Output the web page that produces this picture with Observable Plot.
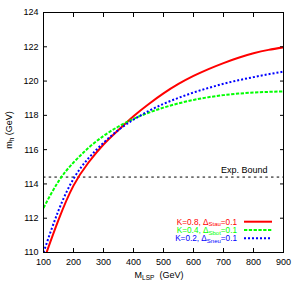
<!DOCTYPE html>
<html>
<head>
<meta charset="utf-8">
<script src="https://cdn.jsdelivr.net/npm/d3@7"></script>
<script src="https://cdn.jsdelivr.net/npm/@observablehq/plot@0.6"></script>
<style>
  html, body { margin: 0; padding: 0; background: #fff; }
  svg { display: block; }
</style>
</head>
<body>
<div id="chart"></div>
<script>
// ---- data ----
const mLSP = [100, 150, 200, 250, 300, 350, 400, 450, 500, 550, 600, 650, 700, 750, 800, 850, 900];
const mhStau = [109.5, 111.9, 113.9, 115.25, 116.3, 117.15, 117.95, 118.65, 119.28, 119.83, 120.3, 120.7, 121.05, 121.36, 121.62, 121.82, 121.97];
const mhSbot = [112.6, 114.15, 115.25, 116.1, 116.8, 117.35, 117.8, 118.15, 118.45, 118.7, 118.9, 119.06, 119.18, 119.27, 119.33, 119.37, 119.4];
const mhSneu = [110.0, 112.45, 114.3, 115.5, 116.4, 117.15, 117.75, 118.25, 118.67, 119.02, 119.33, 119.6, 119.84, 120.05, 120.23, 120.4, 120.55];
const expBound = 114.4;
const expBoundLabel = "Exp. Bound";
const xTicks = [100, 200, 300, 400, 500, 600, 700, 800, 900];
const yTicks = [110, 112, 114, 116, 118, 120, 122, 124];
const legendK = ["K=0.8", "K=0.4", "K=0.2"];
const legendSub = ["Stau", "Sbot", "Sneu"];
const legendDelta = ["0.1", "0.1", "0.1"];
const seriesColors = ["#ff0000", "#00ff00", "#0000ff"];
const seriesDash = ["none", "3.3,1.5", "2,2"];

const seriesValues = [mhStau, mhSbot, mhSneu];
const rows = [];
seriesValues.forEach((vals, s) => vals.forEach((v, i) => rows.push({s, x: mLSP[i], y: v})));

const FONT = "'Liberation Sans', Arial, Helvetica, sans-serif";
const W = 300, H = 281, ML = 43, MR = 17, MT = 12, MB = 29;

const marks = [
  Plot.ruleY([expBound], {stroke: "black", strokeWidth: 1, className: "expb"}),
  Plot.text([expBoundLabel], {frameAnchor: "right", y: () => expBound, text: d => d, dx: -16, dy: -7, textAnchor: "end", fontSize: 9, fill: "black"}),
];
seriesValues.forEach((vals, s) => {
  marks.push(Plot.line(rows.filter(r => r.s === s), {
    x: "x", y: "y", curve: "natural", stroke: seriesColors[s], strokeWidth: 2,
    clip: true, className: "series" + s
  }));
});
marks.push(
  Plot.frame({stroke: "black", strokeWidth: 1}),
  Plot.axisX({anchor: "bottom", ticks: xTicks, tickSize: 0, tickPadding: 6, label: null, fontSize: 9}),
  Plot.axisX({anchor: "bottom", ticks: xTicks, tickSize: -4, tickFormat: () => "", label: null}),
  Plot.axisX({anchor: "top", ticks: xTicks, tickSize: -4, tickFormat: () => "", label: null}),
  Plot.axisY({anchor: "left", ticks: yTicks, tickSize: 0, tickPadding: 5, label: null, fontSize: 9}),
  Plot.axisY({anchor: "left", ticks: yTicks, tickSize: -4, tickFormat: () => "", label: null}),
  Plot.axisY({anchor: "right", ticks: yTicks, tickSize: -4, tickFormat: () => "", label: null})
);

const svg = Plot.plot({
  width: W, height: H,
  marginLeft: ML, marginRight: MR, marginTop: MT, marginBottom: MB,
  style: {fontFamily: FONT, fontSize: "9px", color: "black", background: "white"},
  x: {domain: [100, 900]},
  y: {domain: [110, 124]},
  marks
});

const s = d3.select(svg);
// line styles
seriesDash.forEach((d, i) => {
  s.selectAll(".series" + i + " path").attr("stroke-dasharray", d).style("stroke-dasharray", d).attr("stroke-linecap", "butt");
});
s.selectAll(".expb line").attr("stroke-dasharray", "2.5,3.2").style("stroke-dasharray", "2.5,3.2");

// axis titles with subscripts
const xl = s.append("text").attr("x", 159).attr("y", 277.5).attr("text-anchor", "middle")
  .attr("font-family", FONT).attr("font-size", 9).attr("fill", "black");
xl.append("tspan").text("M");
xl.append("tspan").attr("font-size", 6.5).attr("dy", 2).text("LSP");
xl.append("tspan").attr("dy", -2).text("\u00a0 (GeV)");

const yl = s.append("text").attr("transform", "translate(12,130) rotate(-90)").attr("text-anchor", "middle")
  .attr("font-family", FONT).attr("font-size", 9).attr("fill", "black");
yl.append("tspan").text("m");
yl.append("tspan").attr("font-size", 6.5).attr("dy", 2).text("h");
yl.append("tspan").attr("dy", -2).text(" (GeV)");

// legend
const lg = s.append("g");
const legRight = 237, sampleX1 = 244, sampleX2 = 272, rowY0 = 221.7, rowStep = 8.3;
legendK.forEach((k, i) => {
  const cy = rowY0 + i * rowStep;
  const t = lg.append("text").attr("x", legRight).attr("y", cy + 3).attr("text-anchor", "end")
    .attr("font-family", FONT).attr("font-size", 8.2).attr("fill", seriesColors[i]);
  t.append("tspan").text(k + ", \u0394");
  t.append("tspan").attr("font-size", 6).attr("dy", 1.5).text(legendSub[i]);
  t.append("tspan").attr("dy", -1.5).text("=" + legendDelta[i]);
  lg.append("line").attr("x1", sampleX1).attr("x2", sampleX2).attr("y1", cy).attr("y2", cy)
    .attr("stroke", seriesColors[i]).attr("stroke-width", 2).attr("stroke-dasharray", seriesDash[i]);
});

document.getElementById("chart").appendChild(svg);
</script>
</body>
</html>
